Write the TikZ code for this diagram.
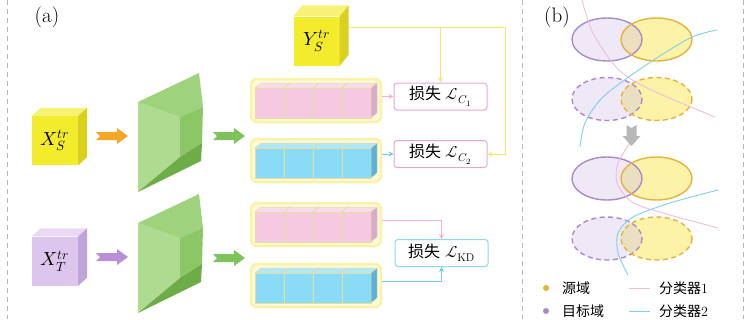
\documentclass[tikz,border=0pt]{standalone}
\usepackage{amsmath,amssymb}
\usepackage{fontspec}
\usepackage{unicode-math}
\setmathfont{Latin Modern Math}
\newfontfamily\cjk{Noto Sans CJK SC}
\usetikzlibrary{arrows.meta, calc}
\usepackage{xcolor}
\definecolor{srcfront}{RGB}{243,236,44}
\definecolor{srctop}{RGB}{247,242,118}
\definecolor{srcside}{RGB}{217,208,32}
\definecolor{tgtfront}{RGB}{220,198,238}
\definecolor{tgttop}{RGB}{232,218,244}
\definecolor{tgtside}{RGB}{190,164,216}
\definecolor{pinkfront}{RGB}{246,200,226}
\definecolor{pinktop}{RGB}{249,219,236}
\definecolor{pinkside}{RGB}{217,170,203}
\definecolor{cyanfront}{RGB}{138,220,246}
\definecolor{cyantop}{RGB}{176,232,249}
\definecolor{cyanside}{RGB}{91,178,216}
\definecolor{glowyellow}{RGB}{254,250,214}
\definecolor{glowedge}{RGB}{250,241,170}
\definecolor{rowedge}{RGB}{228,222,160}
\definecolor{pinkline}{RGB}{239,180,214}
\definecolor{cyanline}{RGB}{111,203,232}
\definecolor{yline}{RGB}{239,235,106}
\definecolor{pinkbox}{RGB}{231,166,210}
\definecolor{cyanbox}{RGB}{143,214,238}
\definecolor{arrorange}{RGB}{245,166,35}
\definecolor{arrpurple}{RGB}{184,143,216}
\definecolor{arrgreen}{RGB}{125,194,90}
\definecolor{encfront}{RGB}{174,219,143}
\definecolor{enctop}{RGB}{158,210,125}
\definecolor{encright}{RGB}{140,198,101}
\definecolor{encbottom}{RGB}{110,172,72}
\definecolor{sepgray}{RGB}{181,181,181}
\definecolor{purpline}{RGB}{168,139,199}
\definecolor{purpfill}{RGB}{239,232,246}
\definecolor{yelline}{RGB}{229,179,61}
\definecolor{yelfill}{RGB}{252,243,168}
\definecolor{mixfill}{RGB}{234,224,192}
\definecolor{pinkcurve}{RGB}{239,189,216}
\definecolor{cyancurve}{RGB}{127,207,230}
\definecolor{grayarrow}{RGB}{184,184,184}

\begin{document}
\begin{tikzpicture}[
    x=1pt, y=-1pt,
    cubefront/.style={rectangle, fill=#1, minimum width=46pt, minimum height=49pt, inner sep=0pt, font=\fontsize{19}{20}\selectfont},
    featrow/.style={rectangle, rounded corners=6pt, fill=glowyellow, draw=glowedge, line width=2.5pt, minimum width=130pt, minimum height=43pt, inner sep=0pt},
    lossbox/.style={rectangle, rounded corners=3pt, draw=#1, fill=white, line width=1pt, minimum width=93pt, minimum height=27pt, inner sep=0pt, font=\fontsize{16}{18}\selectfont},
    flow/.style={-{Stealth[length=5pt, width=5pt]}, line width=1pt, draw=#1},
    sepline/.style={draw=sepgray, line width=0.8pt, dash pattern=on 5pt off 4pt},
    panel/.style={font=\fontsize{21}{24}\selectfont, inner sep=0pt},
    legend/.style={anchor=west, inner sep=0pt, font=\fontsize{14}{16}\selectfont},
    domsolid/.style={},
    domdash/.style={dash pattern=on 5pt off 3.5pt},
]
    \useasboundingbox (0,0) rectangle (750,319);

    % Separators
    \foreach \x in {7,522,743} \draw[sepline] (\x,0) -- (\x,319);

    % Panel labels
    \node[panel] (tagA) at (47,17) {(a)};
    \node[panel] (tagB) at (557,17) {(b)};

    % Input and label cubes
    \node[cubefront=srcfront] (xs) at (55,140.5) {$X^{tr}_S$};
    \node[cubefront=tgtfront] (xt) at (55,261) {$X^{tr}_T$};
    \node[cubefront=srcfront] (ys) at (316.5,41) {$Y^{tr}_S$};
    \foreach \cube/\top/\side/\d in {xs/srctop/srcside/8, xt/tgttop/tgtside/8, ys/srctop/srcside/11} {
        \fill[\top] (\cube.north west) -- ($(\cube.north west)+(9,-\d)$) -- ($(\cube.north east)+(9,-\d)$) -- (\cube.north east) -- cycle;
        \fill[\side] (\cube.north east) -- ($(\cube.north east)+(9,-\d)$) -- ($(\cube.south east)+(9,-\d)$) -- (\cube.south east) -- cycle;
    }

    % Encoders
    \foreach \dy in {0,121} {
        \begin{scope}[shift={(0,\dy)}]
            \fill[encfront] (138,102) -- (180,117) -- (180,157) -- (138,192) -- cycle;
            \fill[enctop] (138,102) -- (199,73) -- (203,107) -- (180,117) -- cycle;
            \fill[encright] (180,117) -- (203,107) -- (202,143) -- (180,157) -- cycle;
            \fill[encbottom] (180,157) -- (202,143) -- (201,161) -- (138,192) -- cycle;
        \end{scope}
    }

    % Block arrows
    \foreach \x/\y/\clr in {96/136/arrorange, 96/257/arrpurple, 213/136/arrgreen, 213/258/arrgreen}
        \fill[\clr] (\x+4,\y) -- ++(-4,-4) -- ++(21,0) -- ++(0,-4) -- ++(11,8) -- ++(-11,8) -- ++(0,-4) -- ++(-21,0) -- cycle;

    % Feature rows
    \foreach \row/\yy/\clr in {fsA/88/pink, fsB/148/cyan, fsC/212/pink, fsD/273/cyan} {
        \node[featrow] (\row) at (316,\yy+12.5) {};
        \foreach \i in {0,...,3} {
            \pgfmathsetmacro\xx{255+29*\i}
            \filldraw[fill=\clr front, draw=rowedge, line width=0.5pt] (\xx,\yy) rectangle ++(29,30);
            \filldraw[fill=\clr top, draw=rowedge, line width=0.5pt] (\xx,\yy) -- ++(6,-5) -- ++(29,0) -- ++(-6,5) -- cycle;
            \filldraw[fill=\clr side, draw=rowedge, line width=0.5pt] (\xx+29,\yy) -- ++(6,-5) -- ++(0,30) -- ++(-6,5) -- cycle;
        }
    }

    % Losses
    \node[lossbox=pinkbox] (lossA) at (440.5,96.5) {{\cjk 损失} $\mathcal{L}_{C_1}$};
    \node[lossbox=pinkbox] (lossB) at (440.5,154) {{\cjk 损失} $\mathcal{L}_{C_2}$};
    \node[lossbox=cyanbox] (lossK) at (441.5,253) {{\cjk 损失} $\mathcal{L}_{\mathrm{KD}}$};

    % Arrows
    \coordinate (yout) at ($(ys.east)+(9,-14)$);
    \coordinate (yturn) at (505,27);
    \draw[flow=yline] (yout) -- (yturn) |- (lossB.east);
    \draw[flow=yline] (yout -| lossA.north) -- (lossA.north);

    \draw[flow=pinkline] (fsA.east |- lossA.west) -- (lossA.west);
    \draw[flow=cyanline] (fsB.east |- lossB.west) -- (lossB.west);
    \draw[flow=pinkline] ($(fsC.east)+(0,-4)$) -| (lossK.north);
    \draw[flow=cyanline] ($(fsD.east)+(0,-4)$) -| (lossK.south);

    % Domains
    \foreach \yy/\sty in {39.5/domsolid, 99/domdash, 178.5/domsolid, 238.5/domdash} {
        \fill[purpfill] (607,\yy) ellipse (35 and 21.5);
        \fill[yelfill] (656.5,\yy) ellipse (35.5 and 21.5);
        \begin{scope}
            \clip (607,\yy) ellipse (35 and 21.5);
            \fill[mixfill] (656.5,\yy) ellipse (35.5 and 21.5);
        \end{scope}
        \draw[purpline, line width=1.4pt, \sty] (607,\yy) ellipse (35 and 21.5);
        \draw[yelline, line width=1.4pt, \sty] (656.5,\yy) ellipse (35.5 and 21.5);
    }

    % Classifiers
    \draw[pinkcurve, line width=0.9pt] plot[smooth] coordinates {(582,0) (593,33) (617,68) (647,88) (715,117)};
    \draw[cyancurve, line width=0.9pt] plot[smooth] coordinates {(717,30) (690,38) (643,67) (603,97) (585,123) (580,147)};
    \draw[pinkcurve, line width=0.9pt] plot[smooth] coordinates {(630,143) (618,163) (617,183) (632,202) (663,213) (718,228)};
    \draw[cyancurve, line width=0.9pt] plot[smooth] coordinates {(718,190) (670,203) (633,217) (618,233) (618,253) (628,275)};

    % Adaptation step
    \fill[grayarrow] (631.5,128) -- (626.5,125) -- (626.5,136) -- (622.5,136) -- (631.5,146) -- (640.5,136) -- (636.5,136) -- (636.5,125) -- cycle;

    % Legend
    \fill[yelline] (546,288) circle (3);
    \fill[purpline] (546,311) circle (3);
    \node[legend] (lgsrc) at (562,288) {\cjk 源域};
    \node[legend] (lgtgt) at (562,311) {\cjk 目标域};
    \draw[pinkcurve, line width=1pt] (629,288) -- (650,288);
    \draw[cyancurve, line width=1pt] (629,311) -- (650,311);
    \node[legend] (lgcA) at (659,288) {{\cjk 分类器}1};
    \node[legend] (lgcB) at (659,311) {{\cjk 分类器}2};

\end{tikzpicture}
\end{document}
